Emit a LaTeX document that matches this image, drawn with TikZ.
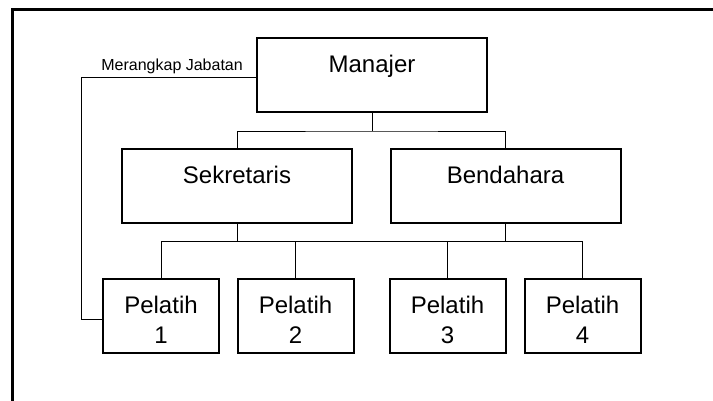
\documentclass[tikz,border=0pt]{standalone}
\usepackage{fontspec}
\setmainfont{Liberation Sans}
\usetikzlibrary{positioning}
\tikzset{
  kotak/.style   = {shape=rectangle, draw, line width=2pt,
                    inner sep=0pt, minimum height=74pt,
                    font=\fontsize{24}{30}\selectfont},
  jabatan/.style = {kotak, minimum width=230pt,
                    text height=18pt, text depth=23pt},
  pelatih/.style = {kotak, align=center, minimum width=116pt,
                    text height=54pt, text depth=0pt},
  garis/.style   = {draw, line width=0.9pt},
  catatan/.style = {inner sep=0pt, font=\fontsize{16}{18}\selectfont}
}
\begin{document}
\begin{tikzpicture}[x=1pt, y=-1pt]
  \useasboundingbox (0,0) rectangle (713,401);
  % bingkai
  \draw[line width=2.5pt] (12.5,401) |- (713,9.7);

  % pengurus
  \node[jabatan] (man) at (372,75)    {Manajer};
  \node[jabatan] (sek) at (237,186)   {Sekretaris};
  \node[jabatan] (ben) at (505.5,186.5) {Bendahara};

  % pelatih
  \node[pelatih] (p1) at (161,316)   {Pelatih\\1};
  \node[pelatih] (p2) at (295.5,316) {Pelatih\\2};
  \node[pelatih] (p3) at (447.5,316) {Pelatih\\3};
  \node[pelatih] (p4) at (582.5,316) {Pelatih\\4};

  % titik cabang
  \coordinate (busA) at (372,131);
  \coordinate (busB) at (372,241.5);

  \draw[garis] (man.south) -- (busA);
  \draw[garis] (sek.north) |- (busA) -| (ben.north);

  \draw[garis] (sek.south) -- (sek.south |- busB);
  \draw[garis] (ben.south) -- (ben.south |- busB);
  \draw[garis] (p1.north) |- (busB) -| (p4.north);
  \draw[garis] (p2.north) -- (p2.north |- busB);
  \draw[garis] (p3.north) -- (p3.north |- busB);

  % rangkap jabatan
  \node[catatan, above left=1pt and 13pt of man.west] (rangkap) {Merangkap Jabatan};
  \draw[garis] ([yshift=-2.5pt]man.west) -- ++(-175,0) |- ([yshift=-3pt]p1.west);
\end{tikzpicture}
\end{document}
